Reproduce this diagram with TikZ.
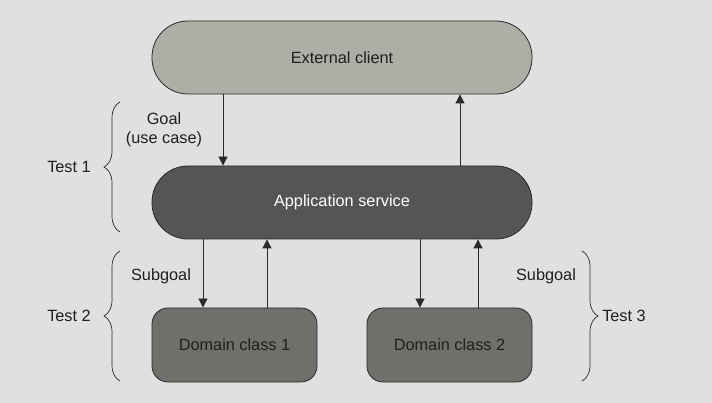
\documentclass[tikz,border=0pt]{standalone}
\usepackage{fontspec}
\setmainfont{Liberation Sans}
\usetikzlibrary{arrows.meta,decorations.pathreplacing}
\definecolor{bg}{HTML}{E0E0E0}
\definecolor{clientfill}{HTML}{AEAEA7}
\definecolor{servicefill}{HTML}{555555}
\definecolor{domainfill}{HTML}{6F706C}
\definecolor{edge}{HTML}{2A2A2A}
\tikzset{
  pill/.style={draw=edge, line width=0.8pt, rounded corners=36pt, minimum width=380pt, minimum height=73pt, font=\fontsize{16.3}{19.5}\selectfont},
  domainbox/.style={draw=edge, line width=0.8pt, rounded corners=16pt, minimum width=165pt, minimum height=74pt, fill=domainfill, text=black!88, font=\fontsize{16.3}{19.5}\selectfont},
  conn/.style={draw=edge, line width=0.8pt, -{Triangle[length=9pt,width=9pt]}},
  lbl/.style={font=\fontsize{16.3}{19.5}\selectfont, text=black!88, align=center},
  bracestyle/.style={draw=edge, line width=0.7pt, decorate, decoration={brace, amplitude=16pt}}
}
\begin{document}
\begin{tikzpicture}[x=1pt,y=-1pt]
\fill[bg] (0,0) rectangle (712,403);
\useasboundingbox (0,0) rectangle (712,403);
\node[pill, fill=clientfill, text=black!88] (client) at (342,57.5) {External client};
\node[pill, fill=servicefill, text=white] (service) at (342,202.5) {Application service};
\node[domainbox] (d1) at (234.5,345) {Domain class 1};
\node[domainbox] (d2) at (449.5,345) {Domain class 2};
\draw[conn] (client.south -| 223,0) -- (service.north -| 223,0);
\draw[conn] (service.north -| 460,0) -- (client.south -| 460,0);
\draw[conn] (service.south -| 203,0) -- (d1.north -| 203,0);
\draw[conn] (d1.north -| 267,0) -- (service.south -| 267,0);
\draw[conn] (service.south -| 420,0) -- (d2.north -| 420,0);
\draw[conn] (d2.north -| 478,0) -- (service.south -| 478,0);
\coordinate (b1s) at (120,232); \coordinate (b1e) at (120,102);
\coordinate (b2s) at (120,381); \coordinate (b2e) at (120,251);
\coordinate (b3s) at (582,251); \coordinate (b3e) at (582,381);
\draw[bracestyle] (b1s) -- (b1e);
\draw[bracestyle] (b2s) -- (b2e);
\draw[bracestyle] (b3s) -- (b3e);
\node[lbl] (t1) at (69,167) {Test 1};
\node[lbl] (t2) at (69,316) {Test 2};
\node[lbl] (t3) at (624,316) {Test 3};
\node[lbl] (goal) at (164,130) {Goal\\(use case)};
\node[lbl] (sg1) at (161,276) {Subgoal};
\node[lbl] (sg2) at (546,276) {Subgoal};
\end{tikzpicture}
\end{document}
